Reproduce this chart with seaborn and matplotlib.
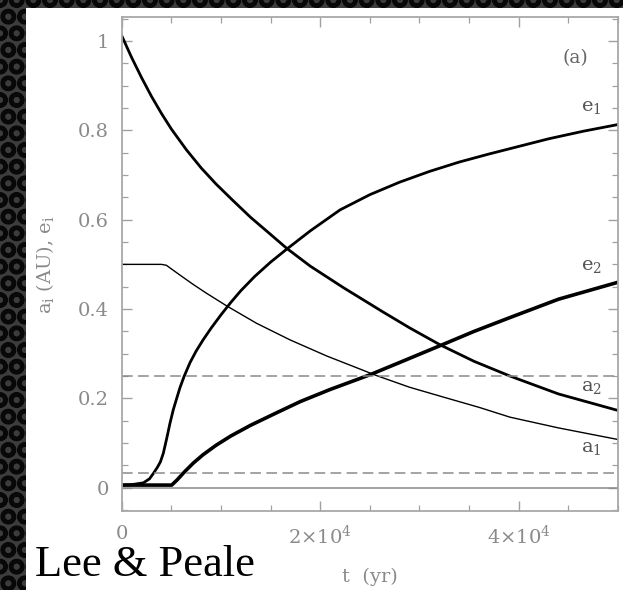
import matplotlib
matplotlib.use('Agg')
import matplotlib.pyplot as plt
from matplotlib.patches import Rectangle
from matplotlib.ticker import MultipleLocator
import pandas as pd
import seaborn as sns

# values (t in yr)
a2_t = [0, 1000, 2000, 3000, 4000, 5000, 6500, 8000, 9500, 11250, 13000, 15000, 16620,
        19000, 22330, 26360, 29000, 32070, 35500, 39120, 44000, 50000]
a2_v = [1.012, 0.963, 0.918, 0.876, 0.838, 0.803, 0.757, 0.716, 0.680, 0.642, 0.605, 0.567, 0.536,
        0.496, 0.448, 0.393, 0.358, 0.320, 0.283, 0.250, 0.210, 0.173]

a1_t = [0, 4000, 4500, 4870, 6000, 7210, 8500, 10580, 13600, 16960, 20650, 25690, 29000, 32400,
        36000, 39120, 44000, 50000]
a1_v = [0.500, 0.500, 0.498, 0.492, 0.474, 0.455, 0.436, 0.407, 0.368, 0.331, 0.295, 0.251, 0.225,
        0.203, 0.180, 0.158, 0.134, 0.108]

e1_t = [0, 1000, 2180, 2800, 3190, 3600, 3900, 4190, 4530, 4870, 5200, 5540, 5870, 6300, 6880,
        7500, 8200, 9000, 10000, 11000, 12000, 13400, 15000, 16620, 19000, 22000, 25000, 28000,
        31000, 34000, 37000, 40000, 43000, 46500, 50000]
e1_v = [0.006, 0.007, 0.011, 0.020, 0.032, 0.046, 0.058, 0.077, 0.110, 0.145, 0.175, 0.200, 0.224,
        0.250, 0.280, 0.306, 0.331, 0.357, 0.387, 0.415, 0.441, 0.473, 0.505, 0.534, 0.575, 0.622,
        0.656, 0.684, 0.708, 0.729, 0.747, 0.764, 0.781, 0.798, 0.813]

e2_t = [0, 5040, 5600, 6300, 7200, 8200, 9500, 11000, 13000, 15620, 18000, 21000, 25020, 28500,
        32070, 35500, 39120, 44000, 50000]
e2_v = [0.006, 0.006, 0.018, 0.035, 0.055, 0.074, 0.095, 0.116, 0.140, 0.168, 0.193, 0.220, 0.253,
        0.285, 0.318, 0.350, 0.381, 0.422, 0.460]

dashed_levels = [0.25, 0.033]

curve_labels = [r'e$_{\rm 1}$', r'e$_{\rm 2}$', r'a$_{\rm 2}$', r'a$_{\rm 1}$']
label_pos = [(47300, 0.852), (47300, 0.497), (47300, 0.225), (47300, 0.088)]

xticks = [0, 20000, 40000]
xticklabels = ['0', r'2$\times$10$^4$', r'4$\times$10$^4$']
yticks = [0, 0.2, 0.4, 0.6, 0.8, 1.0]
yticklabels = ['0', '0.2', '0.4', '0.6', '0.8', '1']

sns.set_style('ticks')
plt.rcParams['font.family'] = ['DejaVu Serif']
plt.rcParams['mathtext.fontset'] = 'dejavuserif'
plt.rcParams['hatch.linewidth'] = 3.0

GRAY = '#8a8a8a'

fig = plt.figure(figsize=(6.23, 5.90), dpi=100)
fig.patch.set_facecolor('#3a3a3a')
# dotted slide background and the white panel
fig.add_artist(Rectangle((0, 0), 1, 1, transform=fig.transFigure, facecolor='#3c3c3c',
                         edgecolor='#080808', hatch='O', lw=0, zorder=-3))
fig.add_artist(Rectangle((26 / 623, 0), 1, (590 - 8) / 590, transform=fig.transFigure,
                         facecolor='white', edgecolor='none', zorder=-2))

ax = fig.add_axes([121.7 / 623, 79 / 590, (618 - 121.7) / 623, (511 - 17.3) / 590])
ax.set_facecolor('white')

series = [
    (a2_t, a2_v, 2.0),
    (a1_t, a1_v, 1.0),
    (e1_t, e1_v, 2.0),
    (e2_t, e2_v, 2.6),
]
for t, v, lw in series:
    df = pd.DataFrame({'t': t, 'v': v})
    sns.lineplot(data=df, x='t', y='v', ax=ax, color='black', lw=lw, estimator=None, sort=False)

for lvl in dashed_levels:
    ax.axhline(lvl, color=GRAY, lw=1.1, ls=(0, (7, 3.5)))
ax.axhline(0, color=GRAY, lw=1.1)

for txt, (x, y) in zip(curve_labels, label_pos):
    ax.text(x, y, txt, fontsize=14, color='#555555', ha='center', va='center')
ax.text(45700, 0.961, '(a)', fontsize=13.5, color='#666666', ha='center', va='center')

ax.set_xlim(0, 50000)
ax.set_ylim(-0.052, 1.053)
ax.set_xticks(xticks)
ax.set_xticklabels(xticklabels)
ax.set_yticks(yticks)
ax.set_yticklabels(yticklabels)
ax.xaxis.set_minor_locator(MultipleLocator(5000))
ax.yaxis.set_minor_locator(MultipleLocator(0.05))
ax.tick_params(which='both', direction='in', top=True, right=True, color='#a0a0a0',
               labelcolor=GRAY, labelsize=14)
ax.tick_params(which='major', length=7, width=1.0)
ax.tick_params(which='minor', length=4, width=0.9)
ax.tick_params(axis='x', pad=10)
ax.tick_params(axis='y', pad=9)
for s in ax.spines.values():
    s.set_color('#a8a8a8')
    s.set_linewidth(1.3)

ax.set_xlabel('t  (yr)', fontsize=14, color=GRAY, labelpad=14)
ax.set_ylabel(r'a$_{\rm i}$ (AU), e$_{\rm i}$', fontsize=14, color=GRAY)
ax.yaxis.set_label_coords(-0.132, 0.5)

fig.text(35 / 623, 1 - 565 / 590, 'Lee & Peale', fontsize=32, color='black',
         family=['Liberation Serif'], ha='left', va='center')

fig.savefig('out.png', dpi=100, facecolor=fig.get_facecolor())
